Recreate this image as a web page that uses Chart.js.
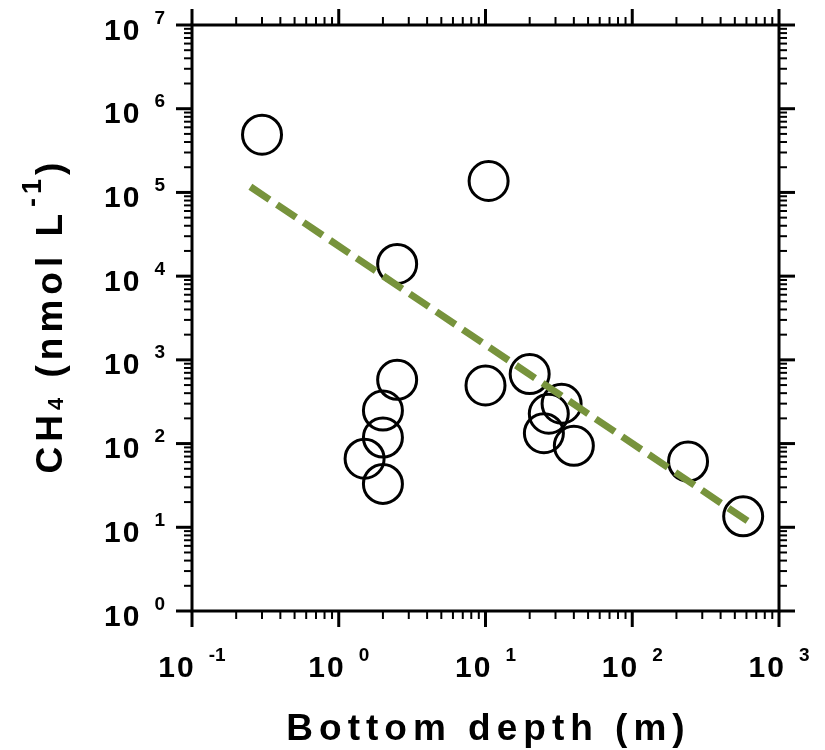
<!DOCTYPE html>
<html>
<head>
<meta charset="utf-8">
<title>CH4 vs bottom depth</title>
<script src="https://cdn.jsdelivr.net/npm/chart.js@4"></script>
<style>
  html, body { margin: 0; padding: 0; background: #fff; }
  #wrap { width: 825px; height: 750px; }
</style>
</head>
<body>
<div id="wrap"><canvas id="c" width="825" height="750"></canvas></div>
<script>
// Sampling sites: bottom depth (m) and dissolved methane (nmol L-1)
const depthM = [0.3, 10.5, 2.5, 2.5, 2.0, 2.0, 1.5, 2.0, 10, 20, 33, 27, 25, 40, 240, 570];
const ch4 = [4.9e5, 1.37e5, 1.4e4, 578, 248, 118, 66, 33, 494, 676, 299, 227, 133, 94, 61, 13.5];

// Power-law fit drawn as a dashed line (end points)
const fitDepth = [0.25, 620];
const fitCh4 = [1.17e5, 11.7];

// Decade exponents used for the tick labels
const xExponents = [-1, 0, 1, 2, 3];
const yExponents = [0, 1, 2, 3, 4, 5, 6, 7];

const xTitle = 'Bottom depth (m)';
const FONT = '"Liberation Sans", Arial, Helvetica, sans-serif';

// Lay out a sequence of text runs (size, letter spacing, vertical shift)
function layoutRuns(ctx, runs) {
  const items = [];
  let x = 0, lastSp = 0;
  for (const r of runs) {
    x += r.pre || 0;
    ctx.font = `bold ${r.size}px ${FONT}`;
    const sp = r.sp || 0;
    for (const ch of r.t) {
      const w = ctx.measureText(ch).width;
      items.push({ ch, x, size: r.size, dy: r.dy || 0 });
      x += w + sp;
    }
    lastSp = sp;
  }
  return { items, width: x - lastSp };
}

function drawRuns(ctx, runs, x, y, align) {
  const lay = layoutRuns(ctx, runs);
  let start = x;
  if (align === 'center') start = x - lay.width / 2;
  else if (align === 'right') start = x - lay.width;
  ctx.textAlign = 'left';
  ctx.textBaseline = 'alphabetic';
  for (const it of lay.items) {
    ctx.font = `bold ${it.size}px ${FONT}`;
    ctx.fillText(it.ch, start + it.x, y + it.dy);
  }
}

function powerRuns(exp) {
  return [
    { t: '10', size: 30, sp: 2 },
    { t: String(exp), size: 19, pre: 13, dy: -16 }
  ];
}

// Boxed log axes with outward major/minor ticks on all four sides
const boxAxes = {
  id: 'boxAxes',
  afterDraw(chart) {
    const { ctx, chartArea: a, scales: { x, y } } = chart;
    const MAJOR = 16, MINOR = 8;
    ctx.save();
    ctx.strokeStyle = '#000';
    ctx.fillStyle = '#000';
    ctx.lineCap = 'butt';

    ctx.lineWidth = 3;
    ctx.strokeRect(a.left, a.top, a.right - a.left, a.bottom - a.top);

    const tick = (x1, y1, x2, y2, w) => {
      ctx.lineWidth = w;
      ctx.beginPath();
      ctx.moveTo(x1, y1);
      ctx.lineTo(x2, y2);
      ctx.stroke();
    };

    // x ticks (bottom and top)
    for (let i = 0; i < xExponents.length; i++) {
      const k = xExponents[i];
      const px = x.getPixelForValue(Math.pow(10, k));
      tick(px, a.bottom, px, a.bottom + MAJOR, 3);
      tick(px, a.top, px, a.top - MAJOR, 3);
      if (i < xExponents.length - 1) {
        for (let m = 2; m <= 9; m++) {
          const mx = x.getPixelForValue(m * Math.pow(10, k));
          tick(mx, a.bottom, mx, a.bottom + MINOR, 2);
          tick(mx, a.top, mx, a.top - MINOR, 2);
        }
      }
    }
    // y ticks (left and right)
    for (let i = 0; i < yExponents.length; i++) {
      const k = yExponents[i];
      const py = y.getPixelForValue(Math.pow(10, k));
      tick(a.left, py, a.left - MAJOR, py, 3);
      tick(a.right, py, a.right + MAJOR, py, 3);
      if (i < yExponents.length - 1) {
        for (let m = 2; m <= 9; m++) {
          const my = y.getPixelForValue(m * Math.pow(10, k));
          tick(a.left, my, a.left - MINOR, my, 2);
          tick(a.right, my, a.right + MINOR, my, 2);
        }
      }
    }

    // tick labels
    for (const k of xExponents) {
      const px = x.getPixelForValue(Math.pow(10, k));
      drawRuns(ctx, powerRuns(k), px, a.bottom + 66, 'center');
    }
    for (const k of yExponents) {
      const py = y.getPixelForValue(Math.pow(10, k));
      drawRuns(ctx, powerRuns(k), a.left - 27, py + 14.5, 'right');
    }

    // axis titles
    drawRuns(ctx, [{ t: xTitle, size: 37, sp: 6 }], (a.left + a.right) / 2, 740, 'center');

    ctx.save();
    ctx.translate(62, (a.top + a.bottom) / 2);
    ctx.rotate(-Math.PI / 2);
    drawRuns(ctx, [
      { t: 'CH', size: 37, sp: 5 },
      { t: '4', size: 22, sp: 5, dy: 1 },
      { t: ' (nmol L', size: 37, sp: 5 },
      { t: '-1', size: 27, sp: 4, pre: 2, dy: -21.5 },
      { t: ')', size: 37 }
    ], 0, 0, 'center');
    ctx.restore();

    ctx.restore();
  }
};

new Chart(document.getElementById('c'), {
  type: 'scatter',
  data: {
    datasets: [
      {
        label: 'Fit',
        data: fitDepth.map((v, i) => ({ x: v, y: fitCh4[i] })),
        showLine: true,
        borderColor: '#77933C',
        borderWidth: 7,
        borderDash: [23, 9],
        pointRadius: 0,
        pointHoverRadius: 0,
        fill: false,
        order: 0,
        clip: false
      },
      {
        label: 'CH4',
        data: depthM.map((v, i) => ({ x: v, y: ch4[i] })),
        pointRadius: 19.5,
        pointHoverRadius: 19.5,
        borderColor: '#000',
        borderWidth: 3,
        pointBorderWidth: 3,
        backgroundColor: 'rgba(0,0,0,0)',
        order: 1,
        clip: false
      }
    ]
  },
  options: {
    responsive: false,
    animation: false,
    devicePixelRatio: 1,
    events: [],
    layout: { padding: { left: 192, right: 46, top: 25, bottom: 139 } },
    plugins: { legend: { display: false }, tooltip: { enabled: false } },
    scales: {
      x: { type: 'logarithmic', min: 0.1, max: 1000, display: false },
      y: { type: 'logarithmic', min: 1, max: 1e7, display: false }
    }
  },
  plugins: [boxAxes]
});
</script>
</body>
</html>
